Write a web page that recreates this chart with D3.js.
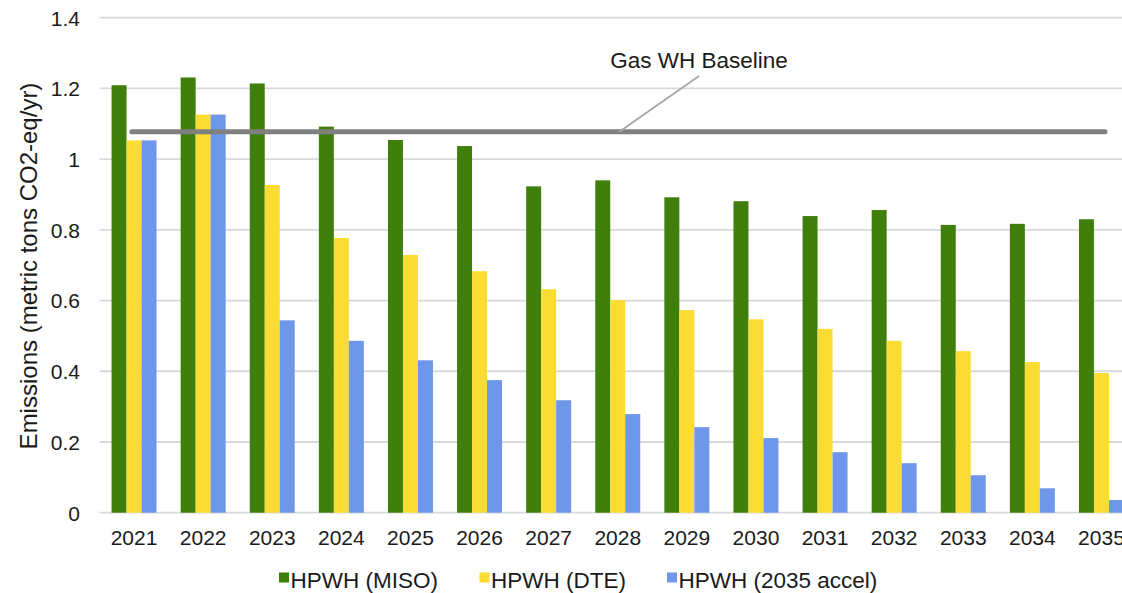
<!DOCTYPE html>
<html>
<head>
<meta charset="utf-8">
<script src="https://cdn.jsdelivr.net/npm/d3@7"></script>
<style>
  html, body { margin: 0; padding: 0; background: #fff; overflow: hidden; }
  svg { display: block; font-family: Arial, "Liberation Sans", Helvetica, sans-serif; }
</style>
</head>
<body>
<svg id="chart" width="1122" height="593"></svg>
<script>
// Annual emissions per water heater, metric tons CO2-eq/yr
const years = ["2021","2022","2023","2024","2025","2026","2027","2028","2029","2030","2031","2032","2033","2034","2035"];
const hpwhMiso  = [1.209, 1.231, 1.214, 1.092, 1.054, 1.037, 0.923, 0.940, 0.892, 0.881, 0.839, 0.856, 0.814, 0.817, 0.830];
const hpwhDte   = [1.053, 1.126, 0.927, 0.777, 0.729, 0.683, 0.632, 0.601, 0.573, 0.547, 0.520, 0.486, 0.457, 0.426, 0.395];
const hpwhAccel = [1.053, 1.126, 0.544, 0.486, 0.431, 0.375, 0.318, 0.279, 0.242, 0.211, 0.171, 0.140, 0.106, 0.069, 0.036];
const seriesNames = ["HPWH (MISO)", "HPWH (DTE)", "HPWH (2035 accel)"];
const gasBaseline = 1.0775;
const baselineLabel = "Gas WH Baseline";
const yTicks = [0, 0.2, 0.4, 0.6, 0.8, 1, 1.2, 1.4];
const yTitle = "Emissions (metric tons CO2-eq/yr)";

const colors = ["#407f0c", "#fbdc33", "#6e96e9"];
const seriesValues = [hpwhMiso, hpwhDte, hpwhAccel];

const svg = d3.select("#chart");
const left = 99.5, step = 69.1;
const x = d3.scaleBand()
  .domain(years)
  .range([left, left + step * years.length])
  .paddingInner(0.349)
  .paddingOuter(0.1745);
const xs = d3.scaleBand().domain(d3.range(3)).range([0, x.bandwidth()]);
const y = d3.scaleLinear().domain([0, 1.4]).range([512.7, 17.7]);

// horizontal gridlines
svg.append("g")
  .selectAll("line")
  .data(yTicks)
  .join("line")
  .attr("x1", left).attr("x2", 1140)
  .attr("y1", d => y(d)).attr("y2", d => y(d))
  .attr("stroke", "#d9d9d9")
  .attr("stroke-width", 1.8);

// y axis labels
const yAxis = d3.axisLeft(y).tickValues(yTicks).tickSize(0).tickPadding(0)
  .tickFormat(d => d3.format("~g")(d));
svg.append("g")
  .attr("transform", "translate(80,0)")
  .call(yAxis)
  .call(g => g.select(".domain").remove())
  .call(g => g.selectAll("text")
    .attr("font-size", 21)
    .attr("font-family", "Arial, 'Liberation Sans', sans-serif")
    .attr("fill", "#1a1a1a")
    .attr("dy", "0.35em"));

// x axis labels
const xAxis = d3.axisBottom(x).tickSize(0).tickPadding(0);
svg.append("g")
  .attr("transform", "translate(0,0)")
  .call(xAxis)
  .call(g => g.select(".domain").remove())
  .call(g => g.selectAll("text")
    .attr("font-size", 21)
    .attr("font-family", "Arial, 'Liberation Sans', sans-serif")
    .attr("fill", "#1a1a1a")
    .attr("y", 545)
    .attr("dy", 0));

// bars
const groups = svg.append("g")
  .selectAll("g")
  .data(years)
  .join("g")
  .attr("transform", d => `translate(${x(d)},0)`);
groups.selectAll("rect")
  .data((d, i) => seriesValues.map((s, k) => ({ k, v: s[i] })))
  .join("rect")
  .attr("x", d => xs(d.k))
  .attr("width", xs.bandwidth())
  .attr("y", d => y(d.v))
  .attr("height", d => y(0) - y(d.v))
  .attr("fill", d => colors[d.k]);

// gas baseline
const bx1 = x(years[0]) + x.bandwidth() * 0.45;
const bx2 = x(years[years.length - 1]) + x.bandwidth() * 0.58;
svg.append("line")
  .attr("x1", bx1).attr("x2", bx2)
  .attr("y1", y(gasBaseline)).attr("y2", y(gasBaseline))
  .attr("stroke", "#808080")
  .attr("stroke-width", 5)
  .attr("stroke-linecap", "round");

// callout for baseline
svg.append("line")
  .attr("x1", 619.3).attr("y1", y(gasBaseline))
  .attr("x2", 699).attr("y2", 76)
  .attr("stroke", "#a6a6a6")
  .attr("stroke-width", 1.8);
svg.append("text")
  .attr("x", 699).attr("y", 67.5)
  .attr("text-anchor", "middle")
  .attr("font-size", 22.5)
  .attr("fill", "#1a1a1a")
  .text(baselineLabel);

// y axis title
svg.append("text")
  .attr("transform", "translate(37,266) rotate(-90)")
  .attr("text-anchor", "middle")
  .attr("font-size", 24)
  .attr("fill", "#1a1a1a")
  .text(yTitle);

// legend
const legendX = [279, 479.5, 667];
const legend = svg.append("g")
  .selectAll("g")
  .data(seriesNames)
  .join("g")
  .attr("transform", (d, i) => `translate(${legendX[i]},0)`);
legend.append("rect")
  .attr("x", 0).attr("y", 572.5)
  .attr("width", 10).attr("height", 10)
  .attr("fill", (d, i) => colors[i]);
legend.append("text")
  .attr("x", 11.5).attr("y", 588)
  .attr("font-size", 22.5)
  .attr("fill", "#1a1a1a")
  .text(d => d);
</script>
</body>
</html>
